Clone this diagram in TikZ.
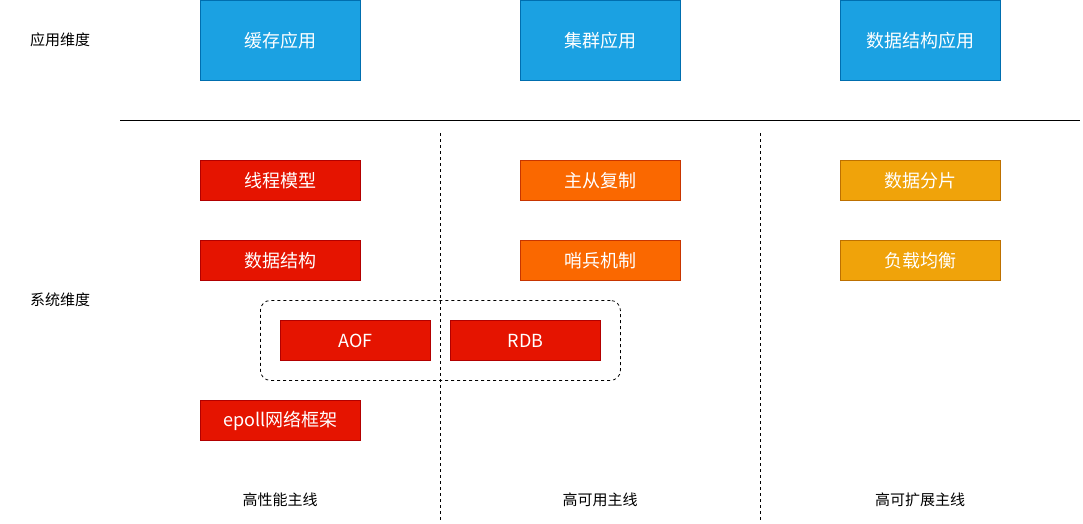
\documentclass[tikz,border=0pt]{standalone}
\usepackage{fontspec}
\setmainfont{Noto Sans CJK SC}
\definecolor{appblue}{HTML}{1BA1E2}
\definecolor{appblueb}{HTML}{006EAF}
\definecolor{sysred}{HTML}{E51400}
\definecolor{sysredb}{HTML}{B20000}
\definecolor{sysorange}{HTML}{FA6800}
\definecolor{sysorangeb}{HTML}{C73500}
\definecolor{sysamber}{HTML}{F0A30A}
\definecolor{sysamberb}{HTML}{BD7000}
\begin{document}
\begin{tikzpicture}[x=1pt,y=-1pt,
  boxbase/.style={draw,line width=0.8pt,text=white,font=\fontsize{18}{21}\selectfont,inner sep=0pt,anchor=north west},
  bluebox/.style={boxbase,fill=appblue,draw=appblueb,minimum width=160pt,minimum height=80pt},
  redbox/.style={boxbase,fill=sysred,draw=sysredb,minimum width=160pt,minimum height=40pt},
  smallred/.style={boxbase,fill=sysred,draw=sysredb,minimum width=150pt,minimum height=40pt},
  orangebox/.style={boxbase,fill=sysorange,draw=sysorangeb,minimum width=160pt,minimum height=40pt},
  amberbox/.style={boxbase,fill=sysamber,draw=sysamberb,minimum width=160pt,minimum height=40pt},
  lbl/.style={font=\fontsize{15}{17}\selectfont,text=black,inner sep=0pt},
  sep/.style={draw=black,line width=0.8pt,dash pattern=on 3pt off 3pt}]
\useasboundingbox (0,0) rectangle (1083,523);
% top
\node[bluebox] (cache) at (200,0) {缓存应用};
\node[bluebox] (cluster) at (520,0) {集群应用};
\node[bluebox] (dsapp) at (840,0) {数据结构应用};
\coordinate (hl) at (120,120);
\coordinate (hr) at (1080,120);
\draw[line width=0.8pt] (hl) -- (hr);
% dashed verticals
\coordinate (v1t) at (440,133);
\coordinate (v1b) at (440,520);
\coordinate (v2t) at (760,133);
\coordinate (v2b) at (760,520);
% group
\node[draw=black,line width=0.8pt,dash pattern=on 3pt off 3pt,rounded corners=10pt,minimum width=360pt,minimum height=80pt,anchor=north west,inner sep=0pt] (grp) at (260,300) {};
\draw[sep] (v1t) -- (v1b);
\draw[sep] (v2t) -- (v2b);
% system boxes
\node[redbox] (thread) at (200,160) {线程模型};
\node[redbox] (ds) at (200,240) {数据结构};
\node[smallred] (aof) at (280,320) {AOF};
\node[smallred] (rdb) at (450,320) {RDB};
\node[redbox] (epoll) at (200,400) {epoll网络框架};
\node[orangebox] (repl) at (520,160) {主从复制};
\node[orangebox] (sentinel) at (520,240) {哨兵机制};
\node[amberbox] (shard) at (840,160) {数据分片};
\node[amberbox] (lb) at (840,240) {负载均衡};
% labels
\node[lbl] (appdim) at (60,40) {应用维度};
\node[lbl] (sysdim) at (60,300) {系统维度};
\node[lbl] (perf) at (280,500) {高性能主线};
\node[lbl] (avail) at (600,500) {高可用主线};
\node[lbl] (scale) at (920,500) {高可扩展主线};
\end{tikzpicture}
\end{document}
